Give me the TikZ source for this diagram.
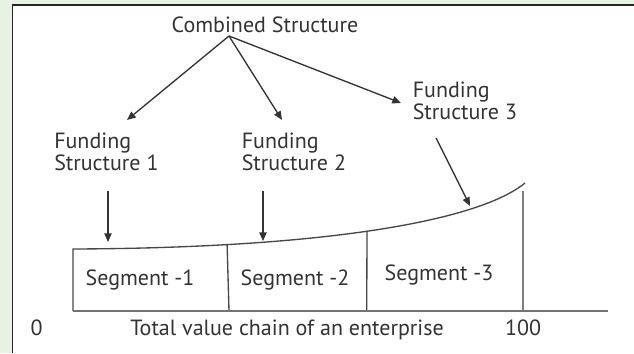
\documentclass[tikz,border=0pt]{standalone}
\usepackage{fontspec}
\setmainfont{PT Sans}
\usetikzlibrary{arrows.meta}
\definecolor{bggreen}{HTML}{E8F2E4}
\definecolor{ink}{HTML}{333333}

\begin{document}
\begin{tikzpicture}[x=0.75pt,y=-0.75pt,
    lbl/.style={inner sep=0pt,text=ink,font=\fontsize{16.5}{16.5}\selectfont},
    arr/.style={draw=ink,line width=1pt,-{Triangle[length=6.5pt,width=5.5pt]}},
    boxline/.style={draw=ink!90,line width=1pt}]
    \useasboundingbox (0,0) rectangle (634,353);
    \fill[bggreen] (0,0) rectangle (634,353);
    \fill[white] (12.5,5) rectangle (634,353);
    \draw[line width=1.2pt,black!85] (12.5,353) -- (12.5,5) -- (634,5);

    % labels
    \node[lbl] (comb) at (265,25) {Combined Structure};
    \node[lbl,align=left,anchor=west] (fs1) at (54,152) {Funding\\Structure 1};
    \node[lbl,align=left,anchor=west] (fs2) at (241.5,152) {Funding\\Structure 2};
    \node[lbl,align=left,anchor=west] (fs3) at (412.5,101) {Funding\\Structure 3};

    \coordinate (src) at (229,36);
    \coordinate (t1) at (127,120);
    \coordinate (t2) at (282,120);
    \coordinate (t3) at (401,103);
    \draw[arr] (src) -- (t1);
    \draw[arr] (src) -- (t2);
    \draw[arr] (src) -- (t3);

    % segments of the value chain
    \draw[boxline] (73,311) -- (73,249) .. controls (330,248) and (480,220) ..
        coordinate[pos=0.22] (c1) coordinate[pos=0.475] (c2) (525,183);
    \draw[boxline] (c1) -- (229,311);
    \draw[boxline] (c2) -- (366.7,311);
    \draw[line width=1.5pt,black!50] (522.7,190.7) -- (522.7,311);
    \draw[line width=1.6pt,black!55] (73,311) -- (608,311);

    \coordinate (d1) at (108,191);
    \coordinate (e1) at (108,242);
    \coordinate (d2) at (263,191);
    \coordinate (e2) at (263,241);
    \coordinate (d3) at (436,138);
    \coordinate (e3) at (470,206);
    \draw[arr] (d1) -- (e1);
    \draw[arr] (d2) -- (e2);
    \draw[arr] (d3) -- (e3);

    \node[lbl,anchor=base] (seg1) at (140,285.5) {Segment -1};
    \node[lbl,anchor=base] (seg2) at (295,285.5) {Segment -2};
    \node[lbl,anchor=base] (seg3) at (439,280.5) {Segment -3};

    \node[lbl,anchor=base] (zero) at (36.7,335) {0};
    \node[lbl,anchor=base] (axis) at (287,335) {Total value chain of an enterprise};
    \node[lbl,anchor=base] (hund) at (523,335) {100};
\end{tikzpicture}
\end{document}
